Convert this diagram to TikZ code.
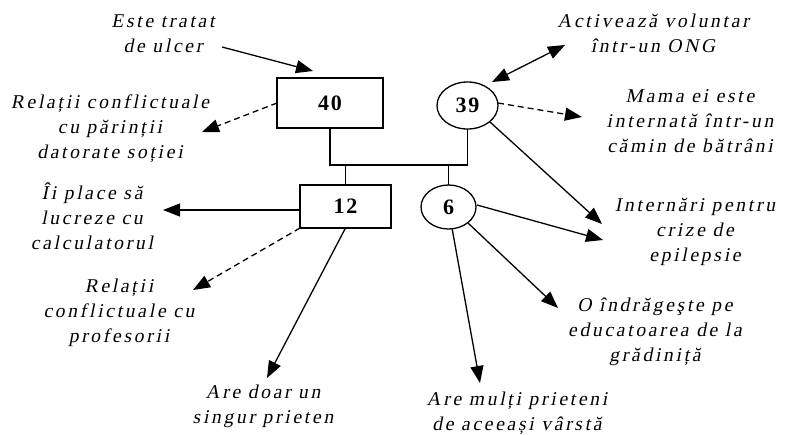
\documentclass[tikz,border=0pt]{standalone}
\usepackage{fontspec}
\setmainfont{Liberation Serif}
% slanted, letter-spaced face for the labels
\newfontfamily\lblfont{Liberation Serif}[FakeSlant=0.2,LetterSpace=14]
\usetikzlibrary{arrows.meta,shapes.geometric}
% centred multi-line label text
\newcommand\mylines[1]{\begin{tabular}{@{}c@{}}#1\end{tabular}}
\begin{document}
\begin{tikzpicture}[x=1pt,y=-1pt,
  every node/.style={inner sep=0pt,outer sep=0pt},
  lbl/.style={font=\lblfont\fontsize{19.5}{25}\selectfont},
  person/.style={draw,line width=1.3pt,font=\fontsize{22}{24}\selectfont\addfontfeatures{LetterSpace=8}\bfseries},
  male/.style={person,rectangle},
  female/.style={person,ellipse},
  tie/.style={line width=1.3pt},
  rel/.style={line width=1.3pt,-{Triangle[length=17pt,width=13pt]}},
  relboth/.style={line width=1.3pt,{Triangle[length=17pt,width=13pt]}-{Triangle[length=17pt,width=13pt]}},
  tense/.style={rel,dash pattern=on 6pt off 4pt}]
\useasboundingbox (0,0) rectangle (787,434);

% family members
\node[male,minimum width=106pt,minimum height=50pt] (b40) at (330,103) {40};
\node[female,minimum width=61pt,minimum height=47pt] (e39) at (467.5,105.5) {39};
\node[male,minimum width=91pt,minimum height=43pt] (b12) at (345.5,206.5) {12};
\node[female,minimum width=55pt,minimum height=44pt] (e6) at (448.5,207) {6};

% family lines
\coordinate (m1) at (330,165);
\coordinate (m2) at (467.5,165);
\coordinate (c1) at (345.5,165);
\coordinate (c2) at (448.5,165);
\draw[tie] (b40.south) -- (m1) -- (m2) -- (e39.south);
\draw[tie] (c1) -- (b12.north);
\draw[tie] (c2) -- (e6.north);

% labels
\node[lbl] (tulcer) at (163,35) {\mylines{Este tratat\\de ulcer}};
\node[lbl] (tparinti) at (110,128) {\mylines{Relații conflictuale\\cu părinții\\datorate soției}};
\node[lbl] (tcalc) at (92,219) {\mylines{Îi place să\\lucreze cu\\calculatorul}};
\node[lbl] (tprof) at (119,312) {\mylines{Relații\\conflictuale cu\\profesorii}};
\node[lbl] (tunic) at (263,406) {\mylines{Are doar un\\singur prieten}};
\node[lbl] (tong) at (653,35) {\mylines{Activează voluntar\\într-un ONG}};
\node[lbl] (tmama) at (690,122) {\mylines{Mama ei este\\internată într-un\\cămin de bătrâni}};
\node[lbl] (tepi) at (695,231) {\mylines{Internări pentru\\crize de\\epilepsie}};
\node[lbl] (tgrad) at (655,331) {\mylines{O îndrăgeşte pe\\educatoarea de la\\grădiniță}};
\node[lbl] (tvarsta) at (517,413) {\mylines{Are mulți prieteni\\de aceeași vârstă}};

% arrow ends
\coordinate (aulcer0) at (222,47);
\coordinate (aulcer) at (313,71);
\coordinate (aparinti) at (202,132);
\coordinate (acalc) at (163,210);
\coordinate (s12a) at (300,210);
\coordinate (aprof) at (193,290);
\coordinate (aunic) at (267,378);
\coordinate (aong1) at (492,82);
\coordinate (aong2) at (565,45);
\coordinate (s39a) at (498,103);
\coordinate (amama) at (582,117);
\coordinate (s39b) at (490,122);
\coordinate (aepi1) at (602,224);
\coordinate (s6a) at (477,205);
\coordinate (aepi2) at (603,240);
\coordinate (s6b) at (468,223);
\coordinate (agrad) at (558,308);
\coordinate (s6c) at (452,228);
\coordinate (avarsta) at (480,383);

% relations
\draw[rel] (aulcer0) -- (aulcer);
\draw[tense] (b40.west) -- (aparinti);
\draw[rel] (s12a) -- (acalc);
\draw[tense] (b12.south west) -- (aprof);
\draw[rel] (b12.south) -- (aunic);
\draw[relboth] (aong1) -- (aong2);
\draw[tense] (s39a) -- (amama);
\draw[rel] (s39b) -- (aepi1);
\draw[rel] (s6a) -- (aepi2);
\draw[rel] (s6b) -- (agrad);
\draw[rel] (s6c) -- (avarsta);
\end{tikzpicture}
\end{document}
